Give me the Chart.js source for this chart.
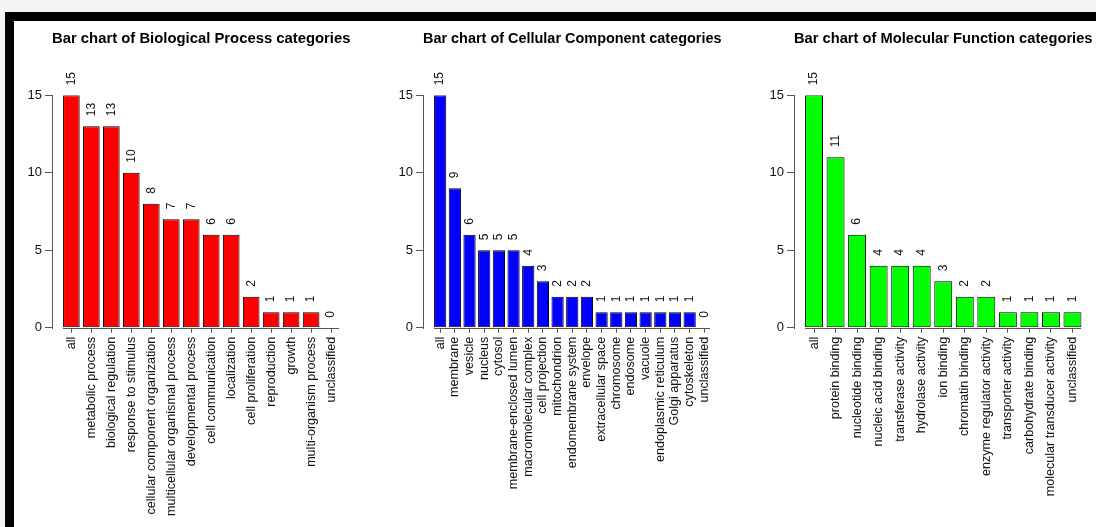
<!DOCTYPE html>
<html>
<head>
<meta charset="utf-8">
<script src="https://cdn.jsdelivr.net/npm/chart.js@4/dist/chart.umd.min.js"></script>
<style>
  html, body { margin: 0; padding: 0; overflow: hidden; }
  body { width: 1096px; height: 527px; background: #f4f4f4; position: relative; }
  #frame { position: absolute; left: 5px; top: 12px; width: 1091px; height: 515px;
           background: #fff; border-left: 9px solid #000; border-top: 9px solid #000; box-sizing: border-box; }
  canvas { position: absolute; top: 21px; }
</style>
</head>
<body>
<div id="frame"></div>
<canvas id="bp"></canvas>
<canvas id="cc"></canvas>
<canvas id="mf"></canvas>
<script>
// Biological Process
const bpLabels = ['all', 'metabolic process', 'biological regulation', 'response to stimulus',
  'cellular component organization', 'multicellular organismal process', 'developmental process',
  'cell communication', 'localization', 'cell proliferation', 'reproduction', 'growth',
  'multi-organism process', 'unclassified'];
const bpValues = [15, 13, 13, 10, 8, 7, 7, 6, 6, 2, 1, 1, 1, 0];

// Cellular Component
const ccLabels = ['all', 'membrane', 'vesicle', 'nucleus', 'cytosol', 'membrane-enclosed lumen',
  'macromolecular complex', 'cell projection', 'mitochondrion', 'endomembrane system', 'envelope',
  'extracellular space', 'chromosome', 'endosome', 'vacuole', 'endoplasmic reticulum',
  'Golgi apparatus', 'cytoskeleton', 'unclassified'];
const ccValues = [15, 9, 6, 5, 5, 5, 4, 3, 2, 2, 2, 1, 1, 1, 1, 1, 1, 1, 0];

// Molecular Function
const mfLabels = ['all', 'protein binding', 'nucleotide binding', 'nucleic acid binding',
  'transferase activity', 'hydrolase activity', 'ion binding', 'chromatin binding',
  'enzyme regulator activity', 'transporter activity', 'carbohydrate binding',
  'molecular transducer activity', 'unclassified'];
const mfValues = [15, 11, 6, 4, 4, 4, 3, 2, 2, 1, 1, 1, 1];

const yTicks = [0, 5, 10, 15];

const FONT = "'Liberation Sans', Arial, Helvetica, sans-serif";
const AXIS_COL = '#555555';

// value above each bar (rotated), baseline under the bars, and the y axis line
const barExtras = {
  id: 'barExtras',
  afterDraw(chart) {
    const ctx = chart.ctx;
    const meta = chart.getDatasetMeta(0);
    const vals = chart.data.datasets[0].data;
    const ys = chart.scales.y;
    const area = chart.chartArea;
    const y0 = Math.round(ys.getPixelForValue(0));
    const yTop = Math.round(ys.getPixelForValue(15));
    const first = meta.data[0], last = meta.data[meta.data.length - 1];
    ctx.save();
    ctx.fillStyle = AXIS_COL;
    const bx0 = Math.round(first.x - first.width / 2);
    const bx1 = Math.round(last.x + last.width / 2);
    ctx.fillRect(bx0, y0, bx1 - bx0, 1);
    ctx.fillRect(Math.round(area.left), yTop, 1, y0 - yTop + 1);

    ctx.fillStyle = '#111';
    ctx.font = '12px ' + FONT;
    ctx.textAlign = 'left';
    ctx.textBaseline = 'middle';
    meta.data.forEach((bar, i) => {
      ctx.save();
      ctx.translate(bar.x, bar.y - 10);
      ctx.rotate(-Math.PI / 2);
      ctx.fillText(String(vals[i].y), 0, 0);
      ctx.restore();
    });
    ctx.restore();
  }
};

function makeChart(id, title, labels, values, color, plotLeft) {
  const n = labels.length;
  const span = 1.2 * n - 0.2;
  const canvas = document.getElementById(id);
  const yAxisW = 50;
  const plotW = 298.5;
  const canvasLeft = Math.round(plotLeft) - yAxisW;
  const canvasW = Math.min(yAxisW + Math.round(plotW) + 20, 1096 - canvasLeft);
  const canvasH = 506;
  canvas.style.left = canvasLeft + 'px';
  canvas.width = canvasW;
  canvas.height = canvasH;
  canvas.style.width = canvasW + 'px';
  canvas.style.height = canvasH + 'px';

  const chartTop = 74.3;
  const chartBottom = 306.7;

  return new Chart(canvas, {
    type: 'bar',
    data: {
      datasets: [{
        data: values.map((v, i) => ({ x: 0.7 + 1.2 * i, y: v })),
        backgroundColor: color,
        borderColor: '#000',
        borderWidth: 1,
        borderSkipped: false,
        barPercentage: 1 / 1.2,
        categoryPercentage: 1
      }]
    },
    options: {
      responsive: false,
      animation: false,
      layout: { padding: { top: 0, left: 0, right: canvasW - yAxisW - plotW, bottom: 0 } },
      plugins: {
        legend: { display: false },
        tooltip: { enabled: false },
        title: {
          display: true,
          text: title,
          fullSize: false,
          color: '#000',
          font: { family: FONT, size: 15, weight: 'bold' },
          padding: { top: 9, bottom: chartTop - 9 - 18 }
        }
      },
      scales: {
        x: {
          type: 'linear',
          offset: false,
          min: 0.2 - 0.04 * span,
          max: 1.2 * n + 0.04 * span,
          afterBuildTicks: s => { s.ticks = labels.map((_, i) => ({ value: 0.7 + 1.2 * i })); },
          afterFit: s => {
            s.height = canvasH - chartBottom;
            s.paddingLeft = 0; s.paddingRight = 0;
          },
          border: { display: false },
          grid: { offset: false, drawOnChartArea: false, color: AXIS_COL, tickLength: 5, lineWidth: 1 },
          ticks: {
            autoSkip: false,
            minRotation: 90,
            maxRotation: 90,
            padding: 4,
            color: '#111',
            font: { family: FONT, size: 12.6 },
            callback: (v, i) => labels[i]
          }
        },
        y: {
          min: 0,
          max: 15,
          afterBuildTicks: s => { s.ticks = yTicks.map(v => ({ value: v })); },
          afterFit: s => { s.width = yAxisW; s.paddingTop = 0; s.paddingBottom = 0; },
          border: { display: false },
          grid: { drawOnChartArea: false, color: AXIS_COL, tickLength: 7 },
          ticks: {
            padding: 3,
            color: '#111',
            font: { family: FONT, size: 13 }
          }
        }
      }
    },
    plugins: [barExtras]
  });
}

makeChart('bp', 'Bar chart of Biological Process categories', bpLabels, bpValues, '#ff0000', 51.7);
makeChart('cc', 'Bar chart of Cellular Component categories', ccLabels, ccValues, '#0000ff', 422.5);
makeChart('mf', 'Bar chart of Molecular Function categories', mfLabels, mfValues, '#00ff00', 793.5);
</script>
</body>
</html>
